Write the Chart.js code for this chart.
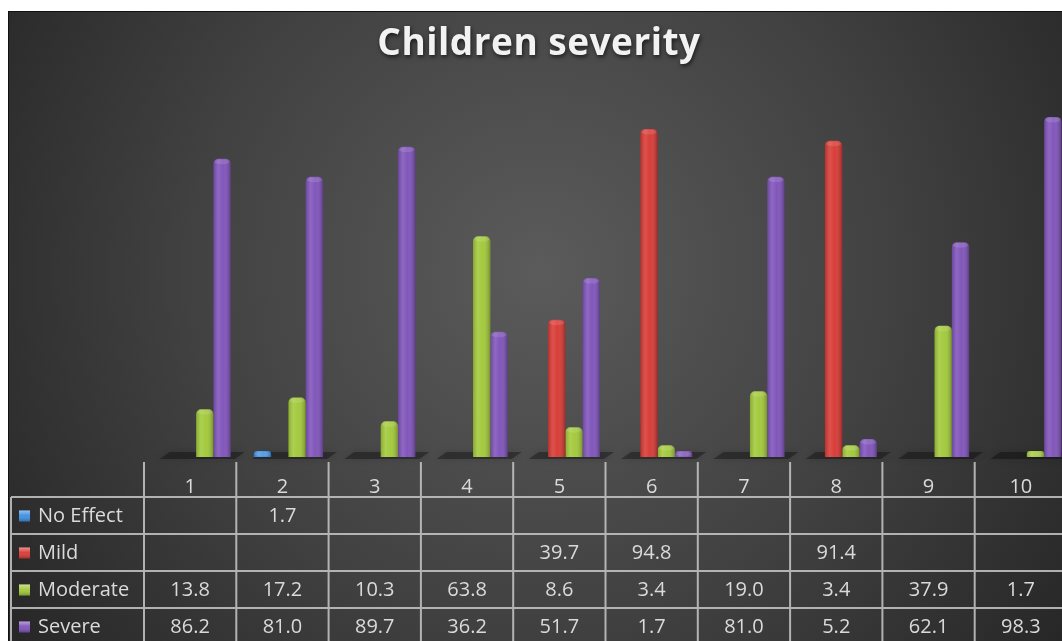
<!DOCTYPE html>
<html>
<head>
<meta charset="utf-8">
<title>Children severity</title>
<script src="https://cdn.jsdelivr.net/npm/chart.js@4.4.1/dist/chart.umd.min.js"></script>
<style>
  html, body { margin: 0; padding: 0; background: #ffffff; overflow: hidden; }
  #wrap { position: absolute; left: 0; top: 0; width: 1100px; height: 641px; }
</style>
</head>
<body>
<div id="wrap"><canvas id="chart" width="1100" height="641"></canvas></div>
<script>
// Survey categories (respondents 1..10)
const categories = ['1', '2', '3', '4', '5', '6', '7', '8', '9', '10'];

// Percentages per severity level
const noEffect = [null, 1.7, null, null, null, null, null, null, null, null];
const mild     = [null, null, null, null, 39.7, 94.8, null, 91.4, null, null];
const moderate = [13.8, 17.2, 10.3, 63.8, 8.6, 3.4, 19.0, 3.4, 37.9, 1.7];
const severe   = [86.2, 81.0, 89.7, 36.2, 51.7, 1.7, 81.0, 5.2, 62.1, 98.3];

const seriesNames = ['No Effect', 'Mild', 'Moderate', 'Severe'];
const seriesColors = ['#3d8ee3', '#d83a35', '#a2c93a', '#7f53ba'];

const FONT = '"Open Sans", "DejaVu Sans", sans-serif';
const TEXT = '#dadada';

// Dark radial background with thin black frame
const backgroundPlugin = {
  id: 'bg',
  beforeDraw(chart) {
    const c = chart.ctx;
    c.save();
    c.fillStyle = '#ffffff';
    c.fillRect(0, 0, chart.width, chart.height);
    const g = c.createRadialGradient(540, 270, 0, 540, 270, 640);
    g.addColorStop(0, '#5b5b5b');
    g.addColorStop(0.55, '#414141');
    g.addColorStop(1, '#272727');
    c.fillStyle = g;
    c.fillRect(8, 11, chart.width, chart.height);
    c.strokeStyle = '#111111';
    c.lineWidth = 1;
    c.strokeRect(8.5, 11.5, chart.width + 10, chart.height + 10);
    c.restore();
  }
};

// Soft shadowed floor under each category group
const floorPlugin = {
  id: 'floor',
  beforeDatasetsDraw(chart) {
    const c = chart.ctx;
    const xs = chart.scales.x;
    const base = chart.chartArea.bottom;
    const step = xs.width / categories.length;
    const half = step * 0.75 / 2;
    c.save();
    c.fillStyle = 'rgba(0,0,0,0.32)';
    c.shadowColor = 'rgba(0,0,0,0.45)';
    c.shadowBlur = 7;
    for (let i = 0; i < categories.length; i++) {
      const cx = xs.getPixelForValue(i);
      const l = cx - half, r = cx + half;
      c.beginPath();
      c.moveTo(l - 2, base + 2);
      c.lineTo(r + 4, base + 2);
      c.lineTo(r + 14, base - 5);
      c.lineTo(l + 8, base - 5);
      c.closePath();
      c.fill();
    }
    c.restore();
  }
};

// Cylinder-like shading and light cap on each column
const shadePlugin = {
  id: 'shade',
  afterDatasetsDraw(chart) {
    const c = chart.ctx;
    c.save();
    chart.data.datasets.forEach((ds, di) => {
      const meta = chart.getDatasetMeta(di);
      meta.data.forEach((bar, i) => {
        if (ds.data[i] == null) return;
        const p = bar.getProps(['x', 'y', 'base', 'width'], true);
        const l = p.x - p.width / 2, w = p.width;
        const top = Math.min(p.y, p.base), h = Math.abs(p.base - p.y);
        const r = Math.min(5, h / 2, w / 2);
        const g = c.createLinearGradient(l, 0, l + w, 0);
        g.addColorStop(0, 'rgba(0,0,0,0.15)');
        g.addColorStop(0.28, 'rgba(255,255,255,0.12)');
        g.addColorStop(0.55, 'rgba(255,255,255,0.02)');
        g.addColorStop(1, 'rgba(0,0,0,0.28)');
        c.beginPath();
        c.roundRect(l, top, w, h, [r, r, 0, 0]);
        c.fillStyle = g;
        c.fill();
        // cap highlight
        c.beginPath();
        c.ellipse(p.x, top + Math.min(3, h / 2), w / 2 - 1, Math.min(2.5, h / 2), 0, 0, Math.PI * 2);
        c.fillStyle = 'rgba(255,255,255,0.12)';
        c.fill();
      });
    });
    c.restore();
  }
};

// Title and data table drawn beneath the plot
const tablePlugin = {
  id: 'table',
  afterDraw(chart) {
    const c = chart.ctx;
    const xs = chart.scales.x;
    const step = xs.width / categories.length;
    const shift = 6;
    const colLeft = i => xs.getPixelForValue(i) - step / 2 - shift;
    const colMid = i => xs.getPixelForValue(i) - shift;
    const headTop = 462;
    const rows = [497, 534, 571, 608, 645];
    const legendLeft = 11;
    const right = chart.width + 5;

    c.save();
    // title
    c.font = 'bold 37px ' + FONT;
    c.textAlign = 'center';
    c.textBaseline = 'alphabetic';
    c.shadowColor = 'rgba(0,0,0,0.65)';
    c.shadowBlur = 4;
    c.shadowOffsetX = 1;
    c.shadowOffsetY = 2;
    c.fillStyle = '#f2f2f2';
    if ('letterSpacing' in c) c.letterSpacing = '0.5px';
    c.fillText('Children severity', 539, 55);
    if ('letterSpacing' in c) c.letterSpacing = '0px';
    c.shadowColor = 'transparent';
    c.shadowBlur = 0; c.shadowOffsetX = 0; c.shadowOffsetY = 0;

    // grid lines
    c.strokeStyle = 'rgba(200,200,200,0.85)';
    c.lineWidth = 2;
    c.beginPath();
    for (const y of rows) { c.moveTo(legendLeft, y); c.lineTo(right, y); }
    c.moveTo(legendLeft, rows[0]); c.lineTo(legendLeft, chart.height + 5);
    for (let i = 0; i <= categories.length; i++) {
      const x = i < categories.length ? colLeft(i) : colLeft(i - 1) + step;
      c.moveTo(x, headTop); c.lineTo(x, chart.height + 5);
    }
    c.stroke();

    // header labels
    c.fillStyle = TEXT;
    c.font = '20px ' + FONT;
    c.textBaseline = 'middle';
    c.textAlign = 'center';
    categories.forEach((lab, i) => c.fillText(lab, colMid(i), 487));

    // rows
    const series = [noEffect, mild, moderate, severe];
    series.forEach((vals, si) => {
      const cy = (rows[si] + rows[si + 1]) / 2 + 1;
      // legend key
      const kx = 19, ky = cy - 6, ks = 11;
      const kg = c.createLinearGradient(kx, ky, kx, ky + ks);
      kg.addColorStop(0, 'rgba(255,255,255,0.45)');
      kg.addColorStop(0.45, 'rgba(255,255,255,0.05)');
      kg.addColorStop(1, 'rgba(0,0,0,0.25)');
      c.fillStyle = seriesColors[si];
      c.fillRect(kx, ky, ks, ks);
      c.fillStyle = kg;
      c.fillRect(kx, ky, ks, ks);
      c.fillStyle = TEXT;
      c.textAlign = 'left';
      c.fillText(seriesNames[si], 38, cy);
      c.textAlign = 'center';
      vals.forEach((v, i) => {
        if (v == null) return;
        c.fillText(v.toFixed(1), colMid(i), cy);
      });
    });
    c.restore();
  }
};

function build() {
  const datasets = [noEffect, mild, moderate, severe].map((d, i) => ({
    label: seriesNames[i],
    data: d,
    backgroundColor: seriesColors[i],
    borderWidth: 0,
    borderRadius: 5,
    borderSkipped: 'start',
    categoryPercentage: 0.75,
    barPercentage: 1.0
  }));

  new Chart(document.getElementById('chart'), {
    type: 'bar',
    data: { labels: categories, datasets },
    options: {
      responsive: false,
      animation: false,
      devicePixelRatio: 1,
      layout: { padding: { left: 150, right: 27, top: 111, bottom: 184 } },
      scales: {
        x: { display: false, grid: { display: false } },
        y: { display: false, min: 0, max: 100, grid: { display: false } }
      },
      plugins: {
        legend: { display: false },
        tooltip: { enabled: false },
        title: { display: false }
      }
    },
    plugins: [backgroundPlugin, floorPlugin, shadePlugin, tablePlugin]
  });
}

const fontLoads = [
  document.fonts.load('20px "Open Sans"'),
  document.fonts.load('bold 37px "Open Sans"')
];
Promise.all(fontLoads).then(build, build);
</script>
</body>
</html>
